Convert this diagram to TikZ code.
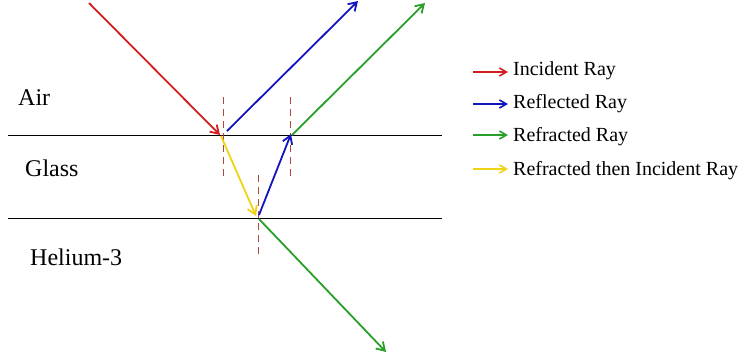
\documentclass[tikz,border=0pt]{standalone}
\usepackage{fontspec}
\setmainfont{Liberation Serif}
\usepackage{xcolor}
\usetikzlibrary{arrows.meta}

\definecolor{rayred}{RGB}{210,30,30}
\definecolor{rayblue}{RGB}{20,20,190}
\definecolor{raygreen}{RGB}{40,160,40}
\definecolor{rayyellow}{RGB}{240,210,20}
\definecolor{normalcol}{RGB}{180,70,60}

\tikzset{
  ray/.style={line width=1.8pt, -{Straight Barb[length=8pt,width=10pt]}},
  keyray/.style={line width=1.6pt, -{Straight Barb[length=7pt,width=8pt]}},
  normal/.style={normalcol, line width=1pt, dash pattern=on 7pt off 5pt},
  boundary/.style={black, line width=1pt},
  medium/.style={anchor=base west, font=\fontsize{24}{28}\selectfont, inner sep=0pt},
  keytext/.style={anchor=base west, font=\fontsize{20}{24}\selectfont, inner sep=0pt}
}

\begin{document}
\begin{tikzpicture}[x=1pt, y=-1pt]
  \useasboundingbox (0,0) rectangle (744,360);

  % Boundaries between media
  \coordinate (topL) at (8,135);
  \coordinate (topR) at (442,135);
  \coordinate (botL) at (8,218);
  \coordinate (botR) at (442,218);
  \draw[boundary] (topL) -- (topR);
  \draw[boundary] (botL) -- (botR);

  % Media labels
  \node[medium] (air) at (18,105) {Air};
  \node[medium] (glass) at (25,176) {Glass};
  \node[medium] (helium) at (30,265) {Helium-3};

  % Normals
  \coordinate (nAtop) at (223,97);
  \coordinate (nAbot) at (223,176);
  \coordinate (nCtop) at (290,97);
  \coordinate (nCbot) at (290,176);
  \coordinate (nBtop) at (258,175);
  \coordinate (nBbot) at (258,257);
  \draw[normal] (nAtop) -- (nAbot);
  \draw[normal] (nCtop) -- (nCbot);
  \draw[normal] (nBtop) -- (nBbot);

  % Rays
  \coordinate (src) at (89,3);
  \coordinate (hitA) at (220,135);
  \coordinate (reflA) at (227,131);
  \coordinate (reflEnd) at (358,1);
  \coordinate (yelS) at (221,136);
  \coordinate (hitB) at (256,216);
  \coordinate (blueS) at (259,215);
  \coordinate (hitC) at (291,134);
  \coordinate (refrS) at (292,135);
  \coordinate (refrEnd) at (425,3);
  \coordinate (downS) at (259,219);
  \coordinate (downEnd) at (386,352);

  \draw[ray, rayred] (src) -- (hitA);
  \draw[ray, rayblue] (reflA) -- (reflEnd);
  \draw[ray, rayyellow] (yelS) -- (hitB);
  \draw[ray, rayblue] (blueS) -- (hitC);
  \draw[ray, raygreen] (refrS) -- (refrEnd);
  \draw[ray, raygreen] (downS) -- (downEnd);

  % Key
  \node[keytext] (keyinc) at (513,75) {Incident Ray};
  \node[keytext] (keyrefl) at (513,108) {Reflected Ray};
  \node[keytext] (keyrefr) at (513,141) {Refracted Ray};
  \node[keytext] (keyboth) at (513,175) {Refracted then Incident Ray};

  \coordinate (kincS) at (473,72);
  \coordinate (kincE) at (508,72);
  \coordinate (kreflS) at (473,104);
  \coordinate (kreflE) at (508,104);
  \coordinate (krefrS) at (473,135);
  \coordinate (krefrE) at (508,135);
  \coordinate (kbothS) at (473,169);
  \coordinate (kbothE) at (508,169);
  \draw[keyray, rayred] (kincS) -- (kincE);
  \draw[keyray, rayblue] (kreflS) -- (kreflE);
  \draw[keyray, raygreen] (krefrS) -- (krefrE);
  \draw[keyray, rayyellow] (kbothS) -- (kbothE);
\end{tikzpicture}
\end{document}
